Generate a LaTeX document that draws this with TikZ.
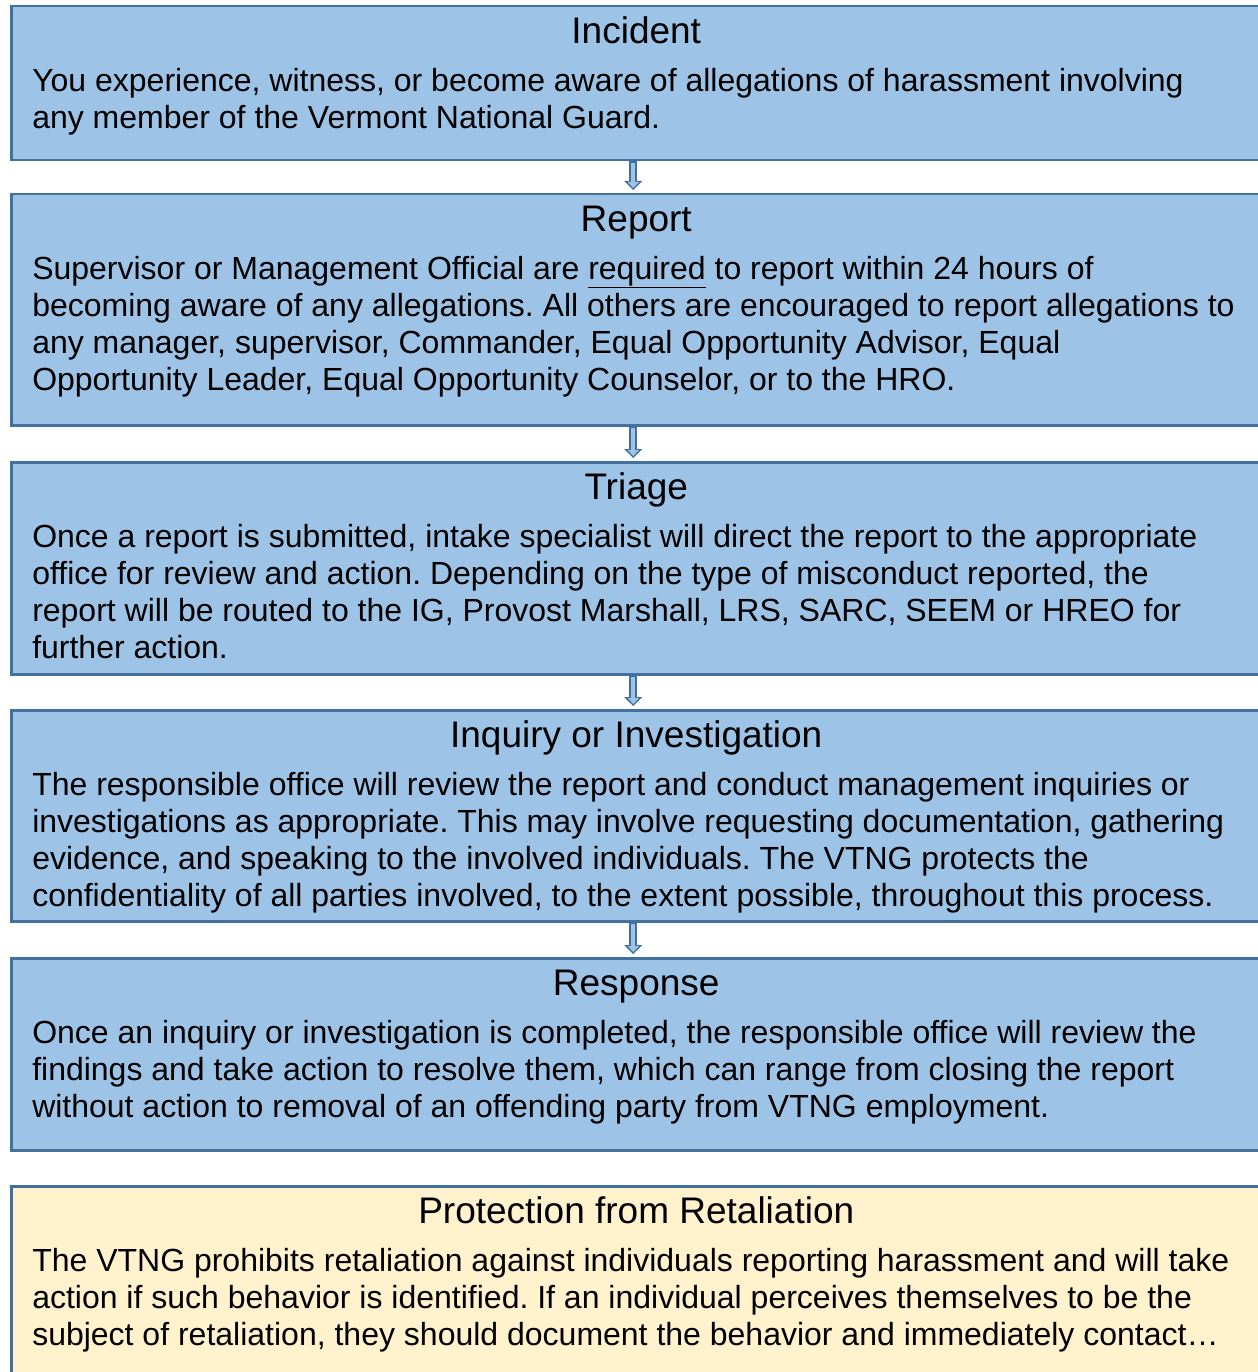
\documentclass[tikz,border=0pt]{standalone}
\usepackage{fontspec}
\setmainfont{Liberation Sans}
\usepackage{xcolor}
\usetikzlibrary{positioning}
\usetikzlibrary{arrows.meta}
\definecolor{boxfill}{HTML}{9DC3E6}
\definecolor{boxedge}{HTML}{41719C}
\definecolor{notefill}{HTML}{FFF2CC}
\newcommand{\steptitle}[1]{{\fontsize{37}{37}\selectfont\rule{0pt}{37pt}#1\par}\vspace{11pt}}
\newcommand{\stepbody}{\raggedright\frenchspacing\fontsize{32}{37}\selectfont}
\tikzstyle{stagebox} = [draw=boxedge, fill=boxfill, line width=2.5pt,
rectangle, inner xsep=21pt, inner ysep=0pt]
\tikzstyle{notebox} = [stagebox, fill=notefill]
\tikzstyle{flowarrow} = [draw=boxedge, line width=8pt, shorten >=3pt,
-{Triangle[length=9pt, width=18pt, line width=0.1pt]},
postaction={draw=boxfill, line width=4pt, shorten >=5pt, shorten <=1.5pt,
-{Triangle[length=6pt, width=11pt, line width=0.1pt]}}]

\begin{document}
\begin{tikzpicture}
    \useasboundingbox (0pt,0pt) rectangle (1257pt,-1372pt);
    \node [stagebox, anchor=north west] (incident) at (10pt,-5pt) {%
        \begin{minipage}[c][154pt][t]{1208pt}
            \centering\steptitle{Incident}
            \stepbody
            You experience, witness, or become aware of allegations of harassment involving\\
            any member of the Vermont National Guard.
        \end{minipage}
    };
    \node [stagebox, below=31.5pt of incident] (report) {%
        \begin{minipage}[c][231pt][t]{1208pt}
            \centering\steptitle{Report}
            \stepbody
            Supervisor or Management Official are \underline{required} to report within 24 hours of\\
            becoming aware of any allegations. All others are encouraged to report allegations to\\
            any manager, supervisor, Commander, Equal Opportunity Advisor, Equal\\
            Opportunity Leader, Equal Opportunity Counselor, or to the HRO.
        \end{minipage}
    };
    \node [stagebox, below=34.5pt of report] (triage) {%
        \begin{minipage}[c][212pt][t]{1208pt}
            \centering\steptitle{Triage}
            \stepbody
            Once a report is submitted, intake specialist will direct the report to the appropriate\\
            office for review and action. Depending on the type of misconduct reported, the\\
            report will be routed to the IG, Provost Marshall, LRS, SARC, SEEM or HREO for\\
            further action.
        \end{minipage}
    };
    \node [stagebox, below=33.5pt of triage] (inquiry) {%
        \begin{minipage}[c][211pt][t]{1208pt}
            \centering\steptitle{Inquiry or Investigation}
            \stepbody
            The responsible office will review the report and conduct management inquiries or\\
            investigations as appropriate. This may involve requesting documentation, gathering\\
            evidence, and speaking to the involved individuals. The VTNG protects the\\
            confidentiality of all parties involved, to the extent possible, throughout this process.
        \end{minipage}
    };
    \node [stagebox, below=34.5pt of inquiry] (response) {%
        \begin{minipage}[c][192pt][t]{1208pt}
            \centering\steptitle{Response}
            \stepbody
            Once an inquiry or investigation is completed, the responsible office will review the\\
            findings and take action to resolve them, which can range from closing the report\\
            without action to removal of an offending party from VTNG employment.
        \end{minipage}
    };
    \node [notebox, below=33.5pt of response] (retaliation) {%
        \begin{minipage}[c][210pt][t]{1208pt}
            \centering\steptitle{Protection from Retaliation}
            \stepbody
            The VTNG prohibits retaliation against individuals reporting harassment and will take\\
            action if such behavior is identified. If an individual perceives themselves to be the\\
            subject of retaliation, they should document the behavior and immediately contact…
        \end{minipage}
    };
    % arrows between the steps
    \draw [flowarrow] ([xshift=-3pt]incident.south) -- ([xshift=-3pt]report.north);
    \draw [flowarrow] ([xshift=-3pt]report.south) -- ([xshift=-3pt]triage.north);
    \draw [flowarrow] ([xshift=-3pt]triage.south) -- ([xshift=-3pt]inquiry.north);
    \draw [flowarrow] ([xshift=-3pt]inquiry.south) -- ([xshift=-3pt]response.north);
\end{tikzpicture}
\end{document}
